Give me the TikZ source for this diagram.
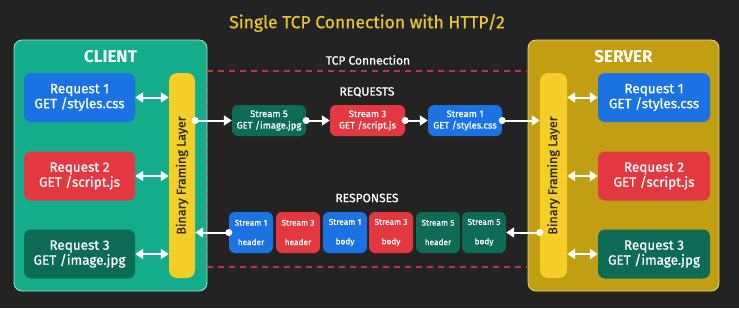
\documentclass[tikz,border=0pt]{standalone}
\usepackage{fontspec}
\setmainfont{Fira Sans}
\newfontfamily\medfont{Fira Sans}[FakeBold=0.8]
\usetikzlibrary{arrows.meta}
\definecolor{bg}{HTML}{232323}
\definecolor{clientc}{HTML}{13AD8C}
\definecolor{clientb}{HTML}{9FE3CF}
\definecolor{serverc}{HTML}{C29F12}
\definecolor{serverb}{HTML}{E8D68C}
\definecolor{bflc}{HTML}{F4CD26}
\definecolor{bluec}{HTML}{1B72E2}
\definecolor{redc}{HTML}{E3383F}
\definecolor{greenc}{HTML}{0E6B55}
\definecolor{titlec}{HTML}{E8C331}
\definecolor{dashc}{HTML}{B9334A}
\definecolor{bfltext}{HTML}{2A2A2A}
\begin{document}
\begin{tikzpicture}[x=1pt,y=-1pt,
  side/.style={rounded corners=8pt, minimum width=#1, minimum height=251pt, inner sep=0pt, line width=0.8pt},
  req/.style={rounded corners=7pt, minimum width=111pt, minimum height=49pt, inner sep=0pt, align=center, text=white, font=\medfont\fontsize{13.5}{15}\selectfont},
  bfl/.style={fill=bflc, rounded corners=8pt, minimum width=26pt, minimum height=205pt, inner sep=0pt},
  bfltxt/.style={rotate=90, text=bfltext, font=\medfont\fontsize{12.5}{14}\selectfont},
  strm/.style={rounded corners=6pt, minimum width=74pt, minimum height=31pt, inner sep=0pt, align=center, text=white, font=\medfont\fontsize{9.5}{11.5}\selectfont},
  resp/.style={rounded corners=6pt, minimum width=44pt, minimum height=41pt, inner sep=0pt, align=center, text=white, font=\medfont\fontsize{8.3}{9.5}\selectfont},
  lbl/.style={text=white, font=\medfont\fontsize{12}{14}\selectfont},
  hdr/.style={text=white, font=\bfseries\fontsize{17}{20}\selectfont},
  dbl/.style={white, line width=2pt, {Triangle[length=8pt,width=10pt]}-{Triangle[length=8pt,width=10pt]}},
  one/.style={white, line width=2pt, -{Triangle[length=8pt,width=10pt]}},
  dot/.style={white}
]
\fill[bg] (0,0) rectangle (739,308);
\useasboundingbox (0,0) rectangle (739,308);

\node[text=titlec, font=\medfont\fontsize{17.5}{20}\selectfont] (title) at (367,23) {Single TCP Connection with HTTP/2};

% client
\node[side=193pt, fill=clientc, draw=clientb] (client) at (110.5,165.5) {};
\node[hdr] (clientlbl) at (110.5,57) {CLIENT};
\node[req, fill=bluec] (creq1) at (79.5,97.5) {Request 1\\GET /styles.css};
\node[req, fill=redc] (creq2) at (79.5,176) {Request 2\\GET /script.js};
\node[req, fill=greenc] (creq3) at (79.5,254) {Request 3\\GET /image.jpg};
\node[bfl] (cbfl) at (182,175.5) {};
\node[bfltxt] (cbfltxt) at (cbfl.center) {Binary Framing Layer};

% server
\node[side=191pt, fill=serverc, draw=serverb] (server) at (623.5,165.5) {};
\node[hdr] (serverlbl) at (623.5,57) {SERVER};
\node[req, fill=bluec, minimum width=112pt] (sreq1) at (654,97.5) {Request 1\\GET /styles.css};
\node[req, fill=redc, minimum width=112pt] (sreq2) at (654,176) {Request 2\\GET /script.js};
\node[req, fill=greenc, minimum width=112pt] (sreq3) at (654,254) {Request 3\\GET /image.jpg};
\node[bfl, minimum width=27pt] (sbfl) at (553.5,175.5) {};
\node[bfltxt] (sbfltxt) at (sbfl.center) {Binary Framing Layer};

% TCP connection
\draw[dashc, line width=1.5pt, dash pattern=on 6pt off 5pt] (client.east |- 0,71) coordinate (tl) -- (server.west |- 0,71)
  (client.east |- 0,267) -- (server.west |- 0,267)
  (tl) -- (client.east |- 0,267);
\node[lbl] (tcplbl) at (368,60) {TCP Connection};
\node[lbl] (reqlbl) at (367,92) {REQUESTS};
\node[lbl] (resplbl) at (367,198) {RESPONSES};

% request streams
\node[strm, fill=greenc] (s5) at (269,120.5) {Stream 5\\GET /image.jpg};
\node[strm, fill=redc, minimum width=75pt] (s3) at (367.5,120.5) {Stream 3\\GET /script.js};
\node[strm, fill=bluec] (s1) at (465,120.5) {Stream 1\\GET /styles.css};

% response frames
\node[resp, fill=bluec] (r1) at (251,232.5) {Stream 1\\[10pt]header};
\node[resp, fill=redc] (r2) at (298,232.5) {Stream 3\\[10pt]header};
\node[resp, fill=bluec] (r3) at (345,232.5) {Stream 1\\[10pt]body};
\node[resp, fill=redc] (r4) at (391,232.5) {Stream 3\\[10pt]body};
\node[resp, fill=greenc] (r5) at (438,232.5) {Stream 5\\[10pt]header};
\node[resp, fill=greenc] (r6) at (484,232.5) {Stream 5\\[10pt]body};

% client double arrows
\draw[dbl] (creq1.east) -- (cbfl.west |- creq1.east);
\draw[dbl] (creq2.east) -- (cbfl.west |- creq2.east);
\draw[dbl] (creq3.east) -- (cbfl.west |- creq3.east);
% server double arrows
\draw[dbl] (sbfl.east |- sreq1.west) -- (sreq1.west);
\draw[dbl] (sbfl.east |- sreq2.west) -- (sreq2.west);
\draw[dbl] (sbfl.east |- sreq3.west) -- (sreq3.west);

% request flow
\draw[one] (cbfl.east |- s5.west) -- (s5.west);
\draw[one] (s5.east) -- (s3.west);
\draw[one] (s3.east) -- (s1.west);
\draw[one] (s1.east) -- (sbfl.west |- s1.east);
\fill[dot] (cbfl.east |- s5.west) circle (3.5pt);
\fill[dot] (s5.east) circle (3.5pt);
\fill[dot] (s3.east) circle (3.5pt);
\fill[dot] (s1.east) circle (3.5pt);

% response flow
\draw[one] (r1.west) -- (cbfl.east |- r1.west);
\draw[one] (sbfl.west |- r6.east) -- (r6.east);
\fill[dot] (r1.west) circle (3.5pt);
\fill[dot] (sbfl.west |- r6.east) circle (3.5pt);
\end{tikzpicture}
\end{document}
